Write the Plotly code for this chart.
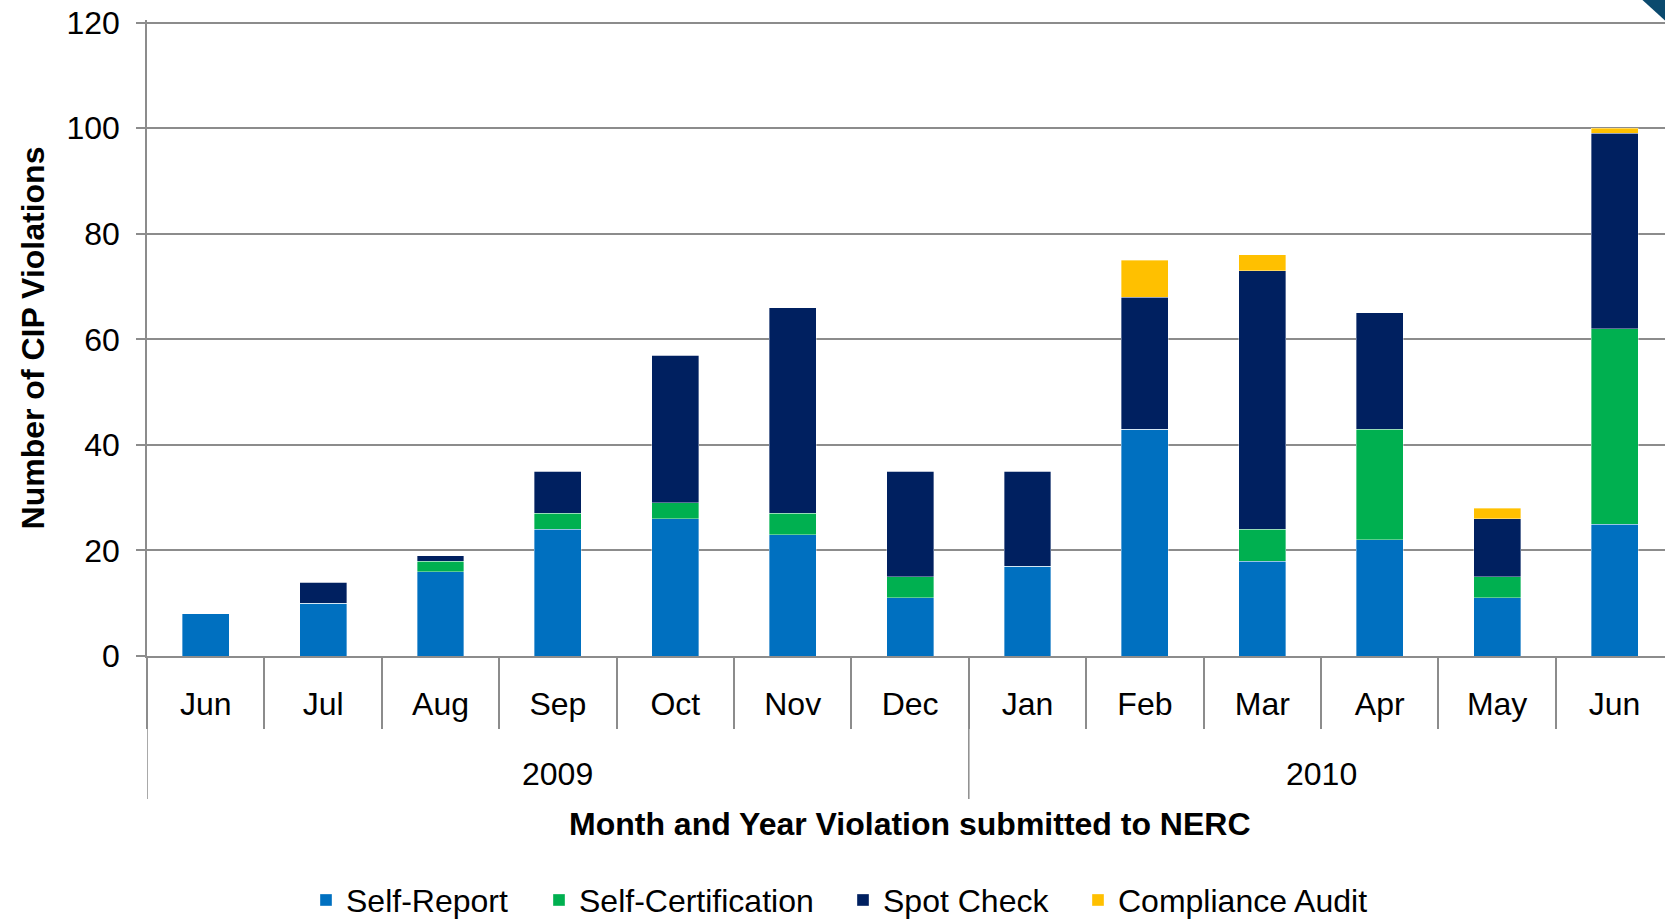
import plotly.graph_objects as go

years = ["2009", "2010"]
year_spans = [(0, 6), (7, 12)]
months = ["Jun", "Jul", "Aug", "Sep", "Oct", "Nov", "Dec", "Jan", "Feb", "Mar", "Apr", "May", "Jun"]

self_report = [8, 10, 16, 24, 26, 23, 11, 17, 43, 18, 22, 11, 25]
self_cert = [0, 0, 2, 3, 3, 4, 4, 0, 0, 6, 21, 4, 37]
spot_check = [0, 4, 1, 8, 28, 39, 20, 18, 25, 49, 22, 11, 37]
compliance_audit = [0, 0, 0, 0, 0, 0, 0, 0, 7, 3, 0, 2, 1]
y_ticks = [0, 20, 40, 60, 80, 100, 120]

series = [
    ("Self-Report", self_report, "#0070C0"),
    ("Self-Certification", self_cert, "#00B050"),
    ("Spot Check", spot_check, "#002060"),
    ("Compliance Audit", compliance_audit, "#FFC000"),
]

FONT = "Liberation Sans, Arial, sans-serif"
GRID = "#8C8C8C"
FS = 32

W, H = 1665, 919
# pixel positions of the plot area (range top is 120.5 so that the 120 gridline is drawn)
PL, PT, PB = 147, 20.4, 656
ML, MR, MT, MB = PL, 0, PT, H - PB
PW, PH = W - ML - MR, H - MT - MB


def py(pix):
    """pixel row -> paper y"""
    return (PB - pix) / PH


def px(pix):
    """pixel column -> paper x"""
    return (pix - PL) / PW


xs = list(range(len(months)))
legend_names = ["legend", "legend2", "legend3", "legend4"]
legend_left = [306, 539, 843, 1078]

fig = go.Figure()
for (name, vals, col), lg in zip(series, legend_names):
    fig.add_trace(go.Bar(
        x=xs, y=vals, name=name, legend=lg,
        marker=dict(color=col, line=dict(width=0.6, color="rgba(255,255,255,0.6)")),
        width=0.4,
    ))

legend_common = dict(orientation="h", y=py(900), yanchor="middle", xanchor="left",
                     font=dict(size=FS, family=FONT), bgcolor="rgba(0,0,0,0)", itemwidth=30)
layout_legends = {}
for lg, lx in zip(legend_names, legend_left):
    layout_legends[lg] = dict(legend_common, x=px(lx))

fig.update_layout(
    barmode="stack",
    width=W, height=H,
    margin=dict(l=ML, r=MR, t=MT, b=MB, autoexpand=False),
    plot_bgcolor="white", paper_bgcolor="white",
    font=dict(family=FONT, size=FS, color="black"),
    showlegend=True,
    **layout_legends,
    xaxis=dict(
        range=[-0.5, 12.43],
        tickmode="array", tickvals=xs, ticktext=months,
        ticks="", ticklabelstandoff=19,
        minor=dict(tickmode="array", tickvals=[i - 0.5 for i in range(len(months) + 1)],
                   ticks="outside", ticklen=71, tickcolor=GRID, tickwidth=1.5, showgrid=False),
        showline=True, linecolor=GRID, linewidth=2,
        showgrid=False, zeroline=False,
        tickfont=dict(size=FS),
        automargin=False,
    ),
    yaxis=dict(
        range=[0, 120.5], tickmode="array", tickvals=y_ticks,
        showline=True, linecolor=GRID, linewidth=1.5,
        showgrid=True, gridcolor=GRID, gridwidth=1.5,
        ticks="outside", ticklen=9, tickcolor=GRID, tickwidth=1.5,
        tickfont=dict(size=FS),
        ticklabelstandoff=10, ticklabeloverflow="allow",
        zeroline=False,
        automargin=False,
        title=dict(text="<b>Number of CIP Violations</b>", font=dict(size=FS), standoff=12),
    ),
)

# x-axis title
fig.add_annotation(text="<b>Month and Year Violation submitted to NERC</b>",
                   xref="paper", yref="paper", x=px(910), y=py(824),
                   xanchor="center", yanchor="middle", showarrow=False,
                   font=dict(size=FS, family=FONT))

# year group labels and dividers
for yr, (a, b) in zip(years, year_spans):
    fig.add_annotation(text=yr, xref="x", yref="paper", x=(a + b) / 2, y=py(774),
                       xanchor="center", yanchor="middle", showarrow=False,
                       font=dict(size=FS, family=FONT))
    fig.add_shape(type="line", xref="x", yref="paper", x0=a - 0.5, x1=a - 0.5,
                  y0=0, y1=py(799), line=dict(color=GRID, width=1.5))

# slide corner decoration
fig.add_shape(type="path", xref="paper", yref="paper",
              path=f"M {px(1642)} {py(0)} L 1 {py(0)} L 1 {py(21)} Z",
              fillcolor="#0B4A6E", line=dict(width=0))

fig.write_html("out.html", config={"displayModeBar": False},
               post_script="document.body.style.margin='0';document.body.style.overflow='hidden';")
